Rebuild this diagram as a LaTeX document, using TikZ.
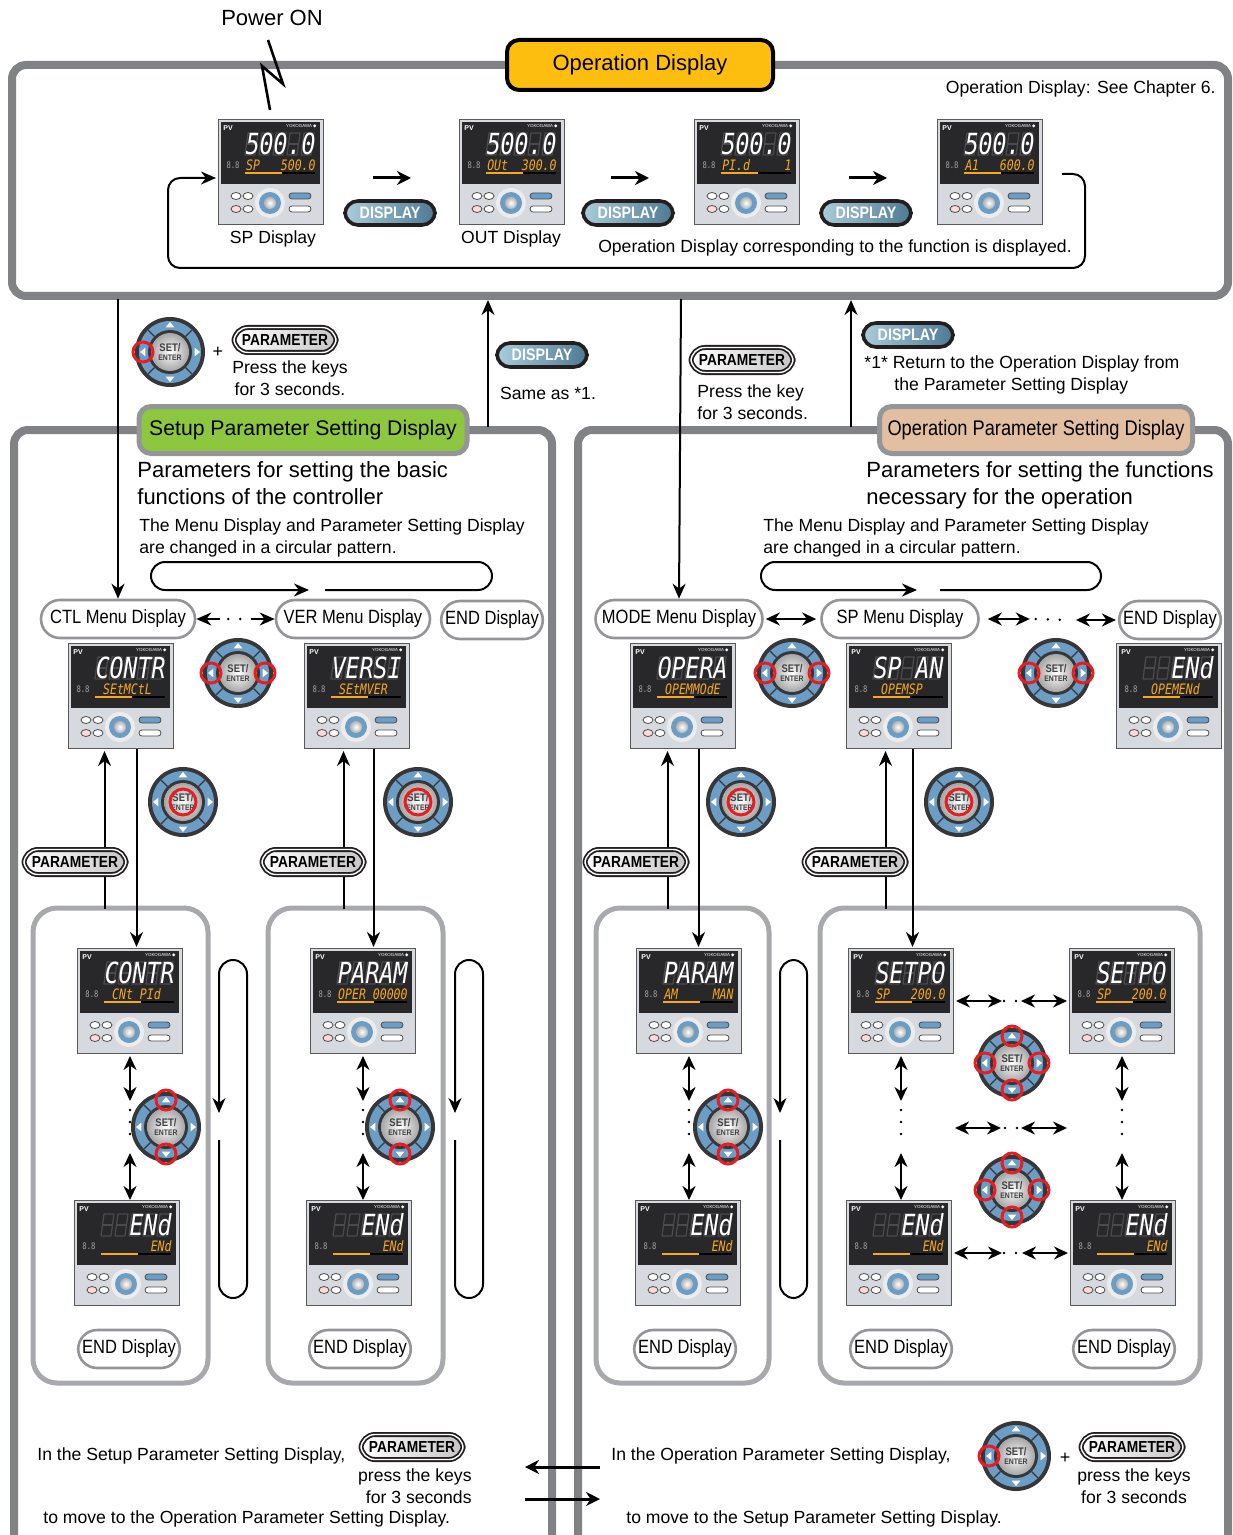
\documentclass[tikz,border=0pt]{standalone}
\usepackage{fontspec}
\setmainfont{Liberation Sans}
\newfontfamily\condfont{Liberation Sans}[FakeStretch=0.86]
\newfontfamily\segfont{DejaVu Sans Mono}[FakeStretch=0.8]
\newfontfamily\symfont{DejaVu Sans}
\usetikzlibrary{arrows.meta,calc,positioning}

\definecolor{framegray}{RGB}{128,130,133}
\definecolor{innergray}{RGB}{167,169,172}
\definecolor{pillgray}{RGB}{147,149,152}
\definecolor{opyellow}{RGB}{253,190,16}
\definecolor{setgreen}{RGB}{141,198,63}
\definecolor{optan}{RGB}{226,191,160}
\definecolor{keydark}{RGB}{35,31,32}
\definecolor{keyblueL}{RGB}{170,204,219}
\definecolor{keyblueR}{RGB}{78,121,146}
\definecolor{lcd}{RGB}{40,40,42}
\definecolor{ghostseg}{RGB}{75,75,78}
\definecolor{panel}{RGB}{214,217,221}
\definecolor{segorange}{RGB}{247,168,35}
\definecolor{dialblue}{RGB}{108,157,196}
\definecolor{dialdark}{RGB}{55,55,58}
\definecolor{ringred}{RGB}{230,30,36}

\tikzset{
  bigframe/.style={draw=framegray, line width=4pt, rounded corners=7pt},
  inframe/.style={draw=innergray, line width=2.5pt, rounded corners=12pt},
  optitle/.style={draw=black, line width=2pt, rounded corners=6pt, fill=opyellow,
    minimum width=133pt, minimum height=25pt, font=\fontsize{11}{13}\selectfont},
  grouptitle/.style={draw=pillgray, line width=2.5pt, rounded corners=6pt,
    minimum height=23.5pt, inner xsep=3pt},
  menupill/.style={draw=pillgray, line width=1.3pt, rounded corners=9.5pt, fill=white,
    minimum height=19pt, inner xsep=2pt, font=\condfont\fontsize{9.6}{11}\selectfont},
  dispkey/.style={draw=keydark, line width=1.8pt, rounded corners=6.5pt,
    left color=keyblueL, right color=keyblueR, minimum width=45pt, minimum height=12pt,
    inner sep=0pt, text=white, font=\condfont\bfseries\fontsize{8.3}{9}\selectfont},
  parakey/.style={draw=keydark, double=white, double distance=.7pt, line width=.9pt,
    rounded corners=7pt, left color=white, right color=gray!45, minimum width=51pt,
    minimum height=12.5pt, inner sep=0pt, font=\condfont\bfseries\fontsize{8}{9}\selectfont},
  lbl/.style={inner sep=0pt, font=\fontsize{8.8}{11}\selectfont},
  bigtext/.style={inner sep=0pt, align=left, font=\fontsize{11}{13.5}\selectfont},
  flow/.style={-{Stealth[length=7.5pt,width=6.5pt]}, line width=1pt},
  nextkey/.style={-{Stealth[length=7pt,width=7pt]}, line width=1.5pt},
  twoway/.style={{Stealth[length=7pt,width=6.5pt]}-{Stealth[length=7pt,width=6.5pt]}, line width=1.1pt},
  dotline/.style={line width=1.4pt, line cap=round, dash pattern=on 0pt off 6pt},
  redring/.style={draw=ringred, line width=1.5pt},
  segbig/.style={inner sep=0pt, text=white, font=\segfont\itshape\fontsize{14.5}{15}\selectfont},
  segsmall/.style={inner sep=0pt, text=segorange, font=\segfont\itshape\fontsize{7.2}{8}\selectfont},
  pics/ctrl/.style 2 args={code={
    \node[draw=gray!70!black, line width=.5pt, fill=panel, minimum width=52.5pt,
      minimum height=52.5pt, inner sep=0pt, anchor=north west] (-f) at (0,0) {};
    \fill[lcd] (3,3) rectangle (102,65);
    \foreach \i in {0,...,4} {
      \draw[ghostseg, line width=.6pt, line join=round] (30+\i*14,14) -- ++(10,0) -- ++(-3,22) -- ++(-10,0) -- cycle;
      \draw[ghostseg, line width=.6pt] (28.5+\i*14,25) -- ++(10,0);
    }
    \node[text=white, inner sep=0pt, font=\bfseries\fontsize{3.5}{4}\selectfont] at (10,9) {PV};
    \node[text=white, inner sep=0pt, anchor=east, font=\fontsize{2.2}{3}\selectfont] at (99,7) {YOKOGAWA {\symfont ◆}};
    \node[segbig, anchor=east] at (98,25) {#1};
    \node[segsmall, anchor=east] at (98,46) {#2};
    \node[text=gray!70, inner sep=0pt, font=\segfont\fontsize{4.5}{5}\selectfont] at (15,46) {8.8};
    \draw[segorange, line width=1pt] (27,54) -- (64,54);
    \draw[black, line width=1pt] (64,54) -- (97,54);
    \foreach \kx/\ky in {18/77, 30/77, 30/90}
      \draw[fill=white, draw=black!70, line width=.4pt] (\kx,\ky) ellipse (5 and 3.5);
    \draw[fill=pink!60, draw=black!70, line width=.4pt] (18,90) ellipse (5 and 3.5);
    \fill[white!85!gray] (52,84) circle (15);
    \fill[dialblue] (52,84) circle (11);
    \shade[inner color=white, outer color=gray!60] (52,84) circle (6);
    \draw[fill=dialblue, draw=black!70, line width=.4pt, rounded corners=1.5pt] (71,74) rectangle (93,80);
    \draw[fill=white, draw=black!70, line width=.4pt, rounded corners=1.5pt] (71,87) rectangle (93,93);
  }},
  pics/dial/.style={code={
    \fill[dialdark] (0,0) circle (35);
    \fill[dialblue] (0,0) circle (31);
    \foreach \ang in {45,135,225,315}
      \draw[dialdark, line width=.6pt] (\ang:22) -- (\ang:31);
    \foreach \ang in {0,90,180,270}
      \fill[white] (\ang:30) -- (\ang+10:25) -- (\ang-10:25) -- cycle;
    \fill[dialdark] (0,0) circle (22);
    \shade[inner color=white, outer color=gray!70] (0,0) circle (19);
    \node[text=black!75, align=center, inner sep=0pt, font=\condfont\bfseries\fontsize{5.5}{5}\selectfont]
      at (0,0) {SET/\\[-.3pt]{\fontsize{4}{4}\selectfont ENTER}};
    \foreach \ang/\dist/\rad in {#1}
      \draw[redring] (\ang:\dist) circle (\rad);
  }}
}

\begin{document}
\begin{tikzpicture}[x=0.5pt, y=-0.5pt]
\useasboundingbox (0,0) rectangle (1232,1535);

% frames
\draw[bigframe] (12,65) rectangle (1228,296);
\draw[bigframe] (14,1536) -- (14,430) -- (552,430) -- (552,1536);
\draw[bigframe] (578,1536) -- (578,430) -- (1228,430) -- (1228,1536);
\foreach \xa/\xb in {33/208, 268/443, 596/769, 820/1200}
  \draw[inframe] (\xa,908) rectangle (\xb,1383);

% titles
\node[optitle] (optit) at (640,65) {Operation Display};
\node[grouptitle, fill=setgreen, minimum width=164pt, font=\fontsize{10.6}{12}\selectfont] (setit) at (303,430) {Setup Parameter Setting Display};
\node[grouptitle, fill=optan, minimum width=156.5pt, font=\condfont\fontsize{10.6}{12}\selectfont] (tantit) at (1036,430) {Operation Parameter Setting Display};

% power on
\node[inner sep=0pt, font=\fontsize{11}{13}\selectfont] (pwr) at (272,18) {Power ON};
\draw[line width=1.3pt, line join=miter] (268,40) -- (283,84) -- (262,66) -- (270,110);
\node[lbl, anchor=east] (chap) at (1216,89) {Operation Display: See Chapter 6.};

% operation display
\pic (sp) at (218,119) {ctrl={500.0}{SP~~~500.0}};
\pic (out) at (459,119) {ctrl={500.0}{OUt~~300.0}};
\pic (pid) at (694,119) {ctrl={500.0}{PI.d~~~~~1}};
\pic (ai) at (937,119) {ctrl={500.0}{A1~~~600.0}};
\node[lbl] at (273,239) {SP Display};
\node[lbl] at (511,239) {OUT Display};
\node[lbl] at (835,248) {Operation Display corresponding to the function is displayed.};
\foreach \k/\kx in {k1/390, k2/628, k3/866} {
  \node[dispkey] (\k) at (\kx,213) {DISPLAY};
  \draw[nextkey] ([xshift=-8.5pt,yshift=17.5pt]\k.center) -- ++(38,0);
}
\coordinate (loopout) at (1062,174);
\coordinate (loopin) at (216,178);
\draw[flow, rounded corners=6pt] (loopout) -- (1085,174) -- (1085,268) -- (168,268) -- (168,178) -- (loopin);

% between the frames
\coordinate (opb1) at (118,299);
\coordinate (opb2) at (488,300);
\coordinate (opb3) at (681,299);
\coordinate (opb4) at (851,300);
\coordinate (sub2) at (488,427);
\coordinate (sub4) at (851,427);
\draw[flow] (sub2) -- (opb2);
\draw[flow] (sub4) -- (opb4);
\pic at (170,352) {dial={180/27/10}};
\node[inner sep=0pt, font=\fontsize{9}{10}\selectfont] at (218,352) {+};
\node[parakey] (pk1) at (285,340) {PARAMETER};
\node[lbl, align=center] at (290,378) {Press the keys\\for 3 seconds.};
\node[dispkey] (k4) at (542,355) {DISPLAY};
\node[lbl] at (548,393) {Same as *1.};
\node[parakey] (pk2) at (742,360) {PARAMETER};
\node[lbl, align=left, anchor=west] at (697,402) {Press the key\\for 3 seconds.};
\node[dispkey] (k5) at (908,335) {DISPLAY};
\node[lbl, align=left, anchor=west] at (864,375) {*1* Return to the Operation Display from\\\hspace{15pt}the Parameter Setting Display};

% panel texts
\node[bigtext, anchor=north west] at (137,461) {Parameters for setting the basic\\functions of the controller};
\node[lbl, align=left, anchor=north west] at (139,518) {The Menu Display and Parameter Setting Display\\are changed in a circular pattern.};
\node[bigtext, anchor=north west] at (866,461) {Parameters for setting the functions\\necessary for the operation};
\node[lbl, align=left, anchor=north west] at (763,518) {The Menu Display and Parameter Setting Display\\are changed in a circular pattern.};
\draw[flow, rounded corners=7pt] (325,590) -- (492,590) -- (492,562) -- (151,562) -- (151,590) -- (309,590);
\draw[flow, rounded corners=7pt] (940,590) -- (1101,590) -- (1101,562) -- (761,562) -- (761,590) -- (917,590);

% menu displays
\node[menupill, minimum width=77pt] (ctlm) at (118,619) {CTL Menu Display};
\node[menupill, minimum width=77pt] (verm) at (353,619) {VER Menu Display};
\node[menupill, minimum width=47pt] (endm1) at (492,620) {END Display};
\node[menupill, minimum width=83.5pt] (modem) at (679,619) {MODE Menu Display};
\node[menupill, minimum width=78.5pt] (spm) at (900,619) {SP Menu Display};
\node[menupill, minimum width=47pt] (endm2) at (1170,620) {END Display};
\draw[flow] (opb1) -- (ctlm.north);
\draw[flow] (opb3) -- (modem.north);
\draw[flow] ([xshift=12pt]ctlm.east) -- (ctlm.east);
\draw[dotline] ([xshift=16pt]ctlm.east) -- ([xshift=-16pt]verm.west);
\draw[flow] ([xshift=-12pt]verm.west) -- (verm.west);
\draw[twoway] ([xshift=1pt]modem.east) -- ([xshift=-2pt]spm.west);
\draw[twoway] ([xshift=4pt]spm.east) -- ([xshift=25pt]spm.east);
\draw[dotline] ([xshift=28pt]spm.east) -- ([xshift=-25pt]endm2.west);
\draw[twoway] ([xshift=-21pt]endm2.west) -- ([xshift=-1pt]endm2.west);

\pic (ctl) at (68,643) {ctrl={CONTR}{SEtMCtL~~~}};
\pic (ver) at (304,643) {ctrl={VERSI}{SEtMVER~~~}};
\pic (mode) at (630,643) {ctrl={OPERA}{OPEMMOdE~~}};
\pic (spc) at (846,643) {ctrl={SP~AN}{OPEMSP~~~~}};
\pic (endc) at (1116,643) {ctrl={~~ENd}{OPEMENd~~~}};
\foreach \dx in {238,792,1056}
  \pic at (\dx,673) {dial={180/27/10,0/27/10}};
\foreach \dx in {183,418,741,959}
  \pic at (\dx,802) {dial={0/0/13}};

% setting displays
\pic (cin) at (77,948) {ctrl={CONTR}{CNt~PId~~~}};
\pic (cend) at (74,1200) {ctrl={~~ENd}{~~~~~~~ENd}};
\pic (pin) at (310,948) {ctrl={PARAM}{OPER~00000}};
\pic (pend) at (306,1200) {ctrl={~~ENd}{~~~~~~~ENd}};
\pic (min) at (636,948) {ctrl={PARAM}{AM~~~~~MAN}};
\pic (mend) at (635,1200) {ctrl={~~ENd}{~~~~~~~ENd}};
\pic (s1) at (848,948) {ctrl={SETPO}{SP~~~200.0}};
\pic (s2) at (1069,948) {ctrl={SETPO}{SP~~~200.0}};
\pic (s3) at (846,1200) {ctrl={~~ENd}{~~~~~~~ENd}};
\pic (s4) at (1070,1200) {ctrl={~~ENd}{~~~~~~~ENd}};

% parameter key paths
\foreach \a/\b/\up/\dn/\dnb/\pk in {ctl/cin/-16.5/15.5/6.5/75, ver/pin/-13.5/16.5/10.5/313,
    mode/min/-15.5/15.5/9.5/636, spc/s1/-13.5/13.5/11.5/855} {
  \draw[flow] ($(\a-f.south)+(\up,160)$) -- ($(\a-f.south)+(\up,2)$);
  \draw[flow] ($(\a-f.south)+(\dn,0)$) -- ($(\b-f.north)+(\dnb,-1)$);
  \node[parakey] at (\pk,862) {PARAMETER};
}

% scrolling inside the groups
\foreach \a/\b in {cin/cend, pin/pend, min/mend, s1/s3, s2/s4} {
  \draw[twoway] ([yshift=-1pt]\a-f.south) -- ++(0,45);
  \draw[dotline] ([yshift=-28pt]\a-f.south) -- ++(0,30);
  \draw[twoway] (\b-f.north -| \a-f.south) -- ++(0,-47);
}
\foreach \dx in {166,400,728}
  \pic at (\dx,1127) {dial={90/27/10,270/27/10}};
\foreach \dy in {1063,1190}
  \pic at (1012,\dy) {dial={0/27/10,90/27/10,180/27/10,270/27/10}};
\coordinate (midl) at (955,1128);
\coordinate (midr) at (1067,1128);
\draw[twoway] ([xshift=1pt]s1-f.east) -- ++(46,0);
\draw[dotline] ([xshift=25pt]s1-f.east) -- ++(13,0);
\draw[twoway] ([xshift=-1pt]s2-f.west) -- ++(-46,0);
\draw[twoway] (midl) -- ++(46,0);
\draw[dotline] ($(midl)+(50,0)$) -- ++(13,0);
\draw[twoway] (midr) -- ++(-46,0);
\draw[twoway] ([xshift=1pt]s3-f.east) -- ++(48,0);
\draw[dotline] ([xshift=26pt]s3-f.east) -- ++(13,0);
\draw[twoway] ([xshift=-1pt]s4-f.west) -- ++(-46,0);
\foreach \lx/\rx in {219/247, 455/483, 780/807}
  \draw[flow, rounded corners=7pt] (\lx,1140) -- (\lx,1298) -- (\rx,1298) -- (\rx,960) -- (\lx,960) -- (\lx,1113);
\node[menupill, minimum width=48pt] (e1) at (129,1349) {END Display};
\node[menupill, minimum width=46pt] (e2) at (360,1349) {END Display};
\node[menupill, minimum width=46pt] (e3) at (685,1349) {END Display};
\node[menupill, minimum width=46pt] (e4) at (901,1349) {END Display};
\node[menupill, minimum width=46pt] (e5) at (1124,1349) {END Display};

% switching between the groups
\node[lbl, anchor=west] at (37,1456) {In the Setup Parameter Setting Display,};
\node[parakey] (pk7) at (412,1447) {PARAMETER};
\node[lbl, align=right, anchor=east] at (472,1486) {press the keys\\for 3 seconds};
\node[lbl, anchor=west] at (43,1519) {to move to the Operation Parameter Setting Display.};
\node[lbl, anchor=west] at (611,1456) {In the Operation Parameter Setting Display,};
\pic at (1016,1456) {dial={180/27/10}};
\node[inner sep=0pt, font=\fontsize{9}{10}\selectfont] at (1065,1458) {+};
\node[parakey] (pk8) at (1132,1447) {PARAMETER};
\node[lbl, align=center] at (1134,1486) {press the keys\\for 3 seconds};
\node[lbl, anchor=west] at (626,1519) {to move to the Setup Parameter Setting Display.};
\coordinate (opl1) at (600,1467);
\coordinate (sul1) at (525,1467);
\coordinate (sul2) at (525,1499);
\coordinate (opl2) at (600,1499);
\draw[nextkey] (opl1) -- (sul1);
\draw[nextkey] (sul2) -- (opl2);
\end{tikzpicture}
\end{document}
